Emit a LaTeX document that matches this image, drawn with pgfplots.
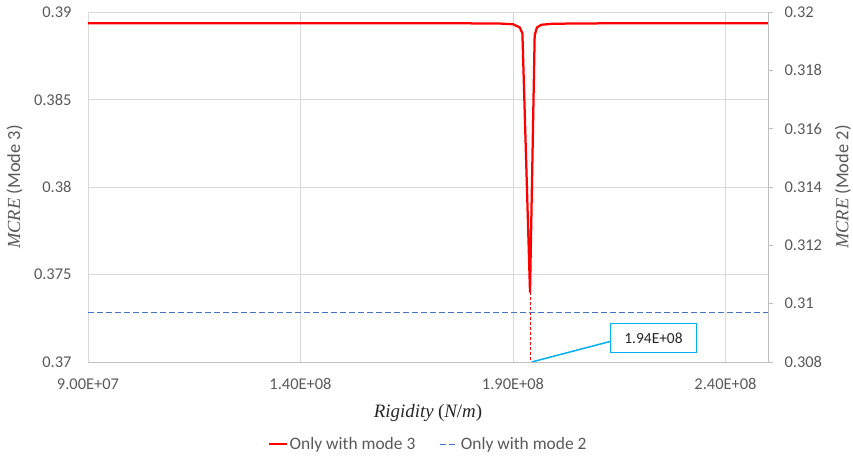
\documentclass[border=0pt]{standalone}
\usepackage{fontspec}
\setmainfont{Carlito}
\newfontfamily\mathlike{Liberation Serif}
\usepackage{pgfplots}
\pgfplotsset{compat=1.18}
\definecolor{gridgray}{HTML}{D9D9D9}
\definecolor{axgray}{HTML}{BFBFBF}
\definecolor{tickgray}{HTML}{595959}
\definecolor{blueline}{HTML}{4472C4}
\definecolor{callout}{HTML}{00B0F0}
\begin{document}
\begin{tikzpicture}
\pgfplotsset{
  common/.style={
    scale only axis, width=680bp, height=350bp,
    xmin=9e7, xmax=2.5e8,
    xtick={9e7,1.4e8,1.9e8,2.4e8},
    scaled x ticks=false, scaled y ticks=false,
    ticklabel style={font=\fontsize{16.5}{19}\selectfont, text=tickgray},
    /pgf/number format/assume math mode=true,
  }
}
\begin{axis}[common, name=ax,
  ymin=0.37, ymax=0.39,
  ytick={0.37,0.375,0.38,0.385,0.39},
  yticklabels={0.37,0.375,0.38,0.385,0.39},
  xticklabels={9.00E+07,1.40E+08,1.90E+08,2.40E+08},
  grid=major, grid style={gridgray, line width=0.75bp},
  axis x line*=bottom, axis y line*=left,
  x axis line style={axgray, line width=0.75bp, -},
  y axis line style={draw=none},
  major tick length=0pt,
  xticklabel style={anchor=center, yshift=-22bp},
  yticklabel style={anchor=east, xshift=-13bp},
  xlabel={{\mathlike\itshape Rigidity} {\mathlike(}{\mathlike\itshape N}{\mathlike /}{\mathlike\itshape m}{\mathlike)}},
  xlabel style={at={(0.5,-0.145)}, anchor=center, font=\fontsize{19}{22}\selectfont, text=black!85},
  ylabel={{\mathlike\itshape MCRE} (Mode 3)},
  ylabel style={at={(-0.108,0.5)}, anchor=center, font=\fontsize{18.5}{22}\selectfont, text=tickgray},
]
\addplot[red, line width=2.25bp, line join=round] coordinates {
 (9e7,0.38935) (1.5e8,0.38935) (1.8e8,0.38935) (1.8687e8,0.38934)
 (1.9e8,0.3893) (1.9157e8,0.38912) (1.9221e8,0.38878)
 (1.94e8,0.374)
 (1.9510e8,0.38867) (1.9564e8,0.38912) (1.9667e8,0.38927) (1.9933e8,0.38933)
 (2.1e8,0.38935) (2.5e8,0.38935)
};
\addplot[red, line width=1bp, dash pattern=on 3bp off 2bp] coordinates {(1.94e8,0.374) (1.94e8,0.37)};
\draw[callout, line width=1.5bp] (axis cs:1.9439e8,0.37) -- (axis cs:2.1296e8,0.37118);
\node[draw=callout, line width=1.5bp, fill=white, minimum width=86bp, minimum height=29bp,
  inner sep=0pt, font=\fontsize{15.5}{18}\selectfont, text=black!85] at (axis cs:2.2306e8,0.37138) {1.94E+08};
\end{axis}
\begin{axis}[common,
  ymin=0.308, ymax=0.32,
  ytick={0.308,0.31,0.312,0.314,0.316,0.318,0.32},
  yticklabels={0.308,0.31,0.312,0.314,0.316,0.318,0.32},
  axis x line=none, axis y line*=right,
  y axis line style={axgray, line width=0.75bp, -},
  ytick style={axgray, line width=0.75bp},
  tick align=outside, major tick length=5bp,
  yticklabel style={anchor=west, xshift=8bp},
  ylabel={{\mathlike\itshape MCRE} (Mode 2)},
  ylabel style={at={(1.11,0.5)}, anchor=center, rotate=0, font=\fontsize{18.5}{22}\selectfont, text=tickgray},
  legend style={at={(0.5,-0.235)}, anchor=center, draw=none, fill=none,
    font=\fontsize{17.5}{20}\selectfont, text=tickgray, legend columns=2,
    /tikz/every even column/.append style={column sep=22bp}},
  legend cell align=left,
  legend image code/.code={\draw[#1] (0bp,0bp) -- (18bp,0bp);},
]
\addlegendimage{red, line width=2.25bp}
\addlegendentry{Only with mode 3}
\addplot[blueline, line width=1.5bp, dash pattern=on 6bp off 3bp] coordinates {(9e7,0.309694) (2.5e8,0.309694)};
\addlegendentry{Only with mode 2}
\end{axis}
\pgfresetboundingbox
\path ([xshift=-88bp,yshift=-95bp]ax.south west) rectangle ([xshift=85bp,yshift=12bp]ax.north east);
\end{tikzpicture}
\end{document}
